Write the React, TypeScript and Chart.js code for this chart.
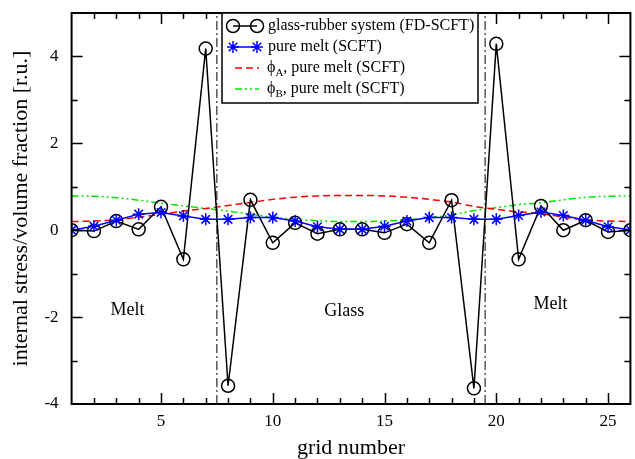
import { useEffect, useRef } from 'react';
import { Chart, registerables } from 'chart.js';

Chart.register(...registerables);

// Grid positions along the film
const gridNumbers = [1, 2, 3, 4, 5, 6, 7, 8, 9, 10, 11, 12, 13, 14, 15, 16, 17, 18, 19, 20, 21, 22, 23, 24, 25, 26];

// Internal stress, glass-rubber system (FD-SCFT)
const glassRubber = [0, -0.02, 0.21, 0.02, 0.54, -0.67, 4.18, -3.58, 0.7, -0.29, 0.17, -0.08, 0.02, 0.02, -0.06, 0.14, -0.29, 0.69, -3.64, 4.29, -0.67, 0.56, 0.0, 0.23, -0.04, 0];

// Internal stress, pure melt (SCFT)
const pureMelt = [0, 0.09, 0.23, 0.37, 0.41, 0.33, 0.25, 0.25, 0.29, 0.29, 0.21, 0.08, 0.02, 0.02, 0.09, 0.21, 0.29, 0.29, 0.25, 0.25, 0.34, 0.42, 0.34, 0.23, 0.08, 0.01];

// Volume fractions of the pure melt (SCFT)
const phiA = [0.2, 0.21, 0.24, 0.3, 0.37, 0.44, 0.5, 0.57, 0.64, 0.71, 0.76, 0.79, 0.8, 0.8, 0.79, 0.76, 0.71, 0.65, 0.55, 0.48, 0.42, 0.38, 0.3, 0.24, 0.21, 0.2];
const phiB = [0.79, 0.78, 0.75, 0.69, 0.62, 0.56, 0.5, 0.44, 0.37, 0.3, 0.25, 0.22, 0.2, 0.2, 0.21, 0.24, 0.29, 0.35, 0.45, 0.52, 0.59, 0.63, 0.7, 0.76, 0.78, 0.79];

// Glass/melt interfaces
const interfaces = [7.5, 19.5];

// Axis ranges and labelled ticks
const xRange = [1, 26];
const yRange = [-4, 5];
const xLabelTicks = [5, 10, 15, 20, 25];
const yLabelTicks = [-4, -2, 0, 2, 4];

// Region labels: [text, x, y]
const regionLabels: [string, number, number][] = [
  ['Melt', 3.5, -1.85],
  ['Glass', 13.2, -1.87],
  ['Melt', 22.43, -1.7],
];

const legendItems = [
  'glass-rubber system (FD-SCFT)',
  'pure melt (SCFT)',
  ', pure melt (SCFT)',
  ', pure melt (SCFT)',
];

const SERIF = '"Liberation Serif", "Times New Roman", serif';
const BLUE = '#0000ff';
const RED = '#ff0000';
const GREEN = 'rgb(0,230,0)';
const DASH_RED = [7, 4];
const DASH_GREEN = [7, 3, 2, 3, 2, 3];
const DASH_IFACE = [9, 3, 2, 3];

const pts = (ys: number[]) => gridNumbers.map((x, i) => ({ x, y: ys[i] }));

const framePlugin = {
  id: 'frameAndExtras',
  afterDatasetsDraw(chart: any) {
    const { ctx, chartArea: a, scales } = chart;
    const xs = scales.x;
    const ys = scales.y;
    ctx.save();

    // region labels
    ctx.fillStyle = '#000';
    ctx.font = `18px ${SERIF}`;
    ctx.textAlign = 'center';
    ctx.textBaseline = 'middle';
    for (const [t, x, y] of regionLabels) {
      ctx.fillText(t, xs.getPixelForValue(x), ys.getPixelForValue(y));
    }

    // frame
    ctx.strokeStyle = '#000';
    ctx.lineWidth = 2;
    ctx.strokeRect(a.left, a.top, a.right - a.left, a.bottom - a.top);

    // inward ticks on all four sides
    ctx.lineWidth = 1.5;
    ctx.beginPath();
    for (let v = xRange[0] + 1; v < xRange[1]; v++) {
      const len = v % 5 === 0 ? 11 : 6;
      const px = Math.round(xs.getPixelForValue(v)) + 0.5;
      ctx.moveTo(px, a.bottom);
      ctx.lineTo(px, a.bottom - len);
      ctx.moveTo(px, a.top);
      ctx.lineTo(px, a.top + len);
    }
    for (let v = yRange[0] + 1; v < yRange[1]; v++) {
      const len = v % 2 === 0 ? 11 : 6;
      const py = Math.round(ys.getPixelForValue(v)) + 0.5;
      ctx.moveTo(a.left, py);
      ctx.lineTo(a.left + len, py);
      ctx.moveTo(a.right, py);
      ctx.lineTo(a.right - len, py);
    }
    ctx.stroke();

    // legend box
    const bx = 222, by = a.top, bw = 256, bh = 90;
    ctx.fillStyle = '#fff';
    ctx.fillRect(bx, by, bw, bh);
    ctx.lineWidth = 1.5;
    ctx.strokeStyle = '#000';
    ctx.strokeRect(bx, by, bw, bh);

    const rows = [26, 47, 68, 89];
    const sx0 = 233, sx1 = 257, tx = 268;

    // row 1: circle - line - circle
    ctx.lineWidth = 1.5;
    ctx.strokeStyle = '#000';
    ctx.beginPath();
    ctx.moveTo(sx0, rows[0]);
    ctx.lineTo(sx1, rows[0]);
    ctx.stroke();
    for (const cx of [sx0, sx1]) {
      ctx.beginPath();
      ctx.arc(cx, rows[0], 6.5, 0, Math.PI * 2);
      ctx.stroke();
    }

    // row 2: star - line - star
    ctx.strokeStyle = BLUE;
    ctx.beginPath();
    ctx.moveTo(sx0, rows[1]);
    ctx.lineTo(sx1, rows[1]);
    ctx.stroke();
    for (const cx of [sx0, sx1]) {
      ctx.beginPath();
      const r = 6;
      for (let k = 0; k < 4; k++) {
        const ang = (k * Math.PI) / 4;
        ctx.moveTo(cx - Math.cos(ang) * r, rows[1] - Math.sin(ang) * r);
        ctx.lineTo(cx + Math.cos(ang) * r, rows[1] + Math.sin(ang) * r);
      }
      ctx.stroke();
    }

    // rows 3, 4: dashed samples
    ctx.strokeStyle = RED;
    ctx.setLineDash(DASH_RED);
    ctx.beginPath();
    ctx.moveTo(235, rows[2]);
    ctx.lineTo(259, rows[2]);
    ctx.stroke();
    ctx.strokeStyle = GREEN;
    ctx.setLineDash(DASH_GREEN);
    ctx.beginPath();
    ctx.moveTo(235, rows[3]);
    ctx.lineTo(259, rows[3]);
    ctx.stroke();
    ctx.setLineDash([]);

    // legend text
    ctx.fillStyle = '#000';
    ctx.textAlign = 'left';
    ctx.textBaseline = 'middle';
    ctx.font = `16px ${SERIF}`;
    ctx.fillText(legendItems[0], tx, rows[0]);
    ctx.fillText(legendItems[1], tx, rows[1]);
    const subs = ['A', 'B'];
    for (let i = 0; i < 2; i++) {
      const y = rows[2 + i];
      let x = 267;
      ctx.font = `16px ${SERIF}`;
      ctx.fillText('\u03d5', x, y);
      x += ctx.measureText('\u03d5').width;
      ctx.font = `11px ${SERIF}`;
      ctx.fillText(subs[i], x, y + 5);
      x += ctx.measureText(subs[i]).width;
      ctx.font = `16px ${SERIF}`;
      ctx.fillText(legendItems[2 + i], x, y);
    }

    ctx.restore();
  },
};

export default function App() {
  const ref = useRef<HTMLCanvasElement | null>(null);

  useEffect(() => {
    document.body.style.margin = '0';
    const canvas = ref.current;
    if (!canvas) return;

    const chart = new Chart(canvas, {
      type: 'line',
      data: {
        datasets: [
          {
            label: 'glass-rubber system (FD-SCFT)',
            data: pts(glassRubber),
            borderColor: '#000',
            borderWidth: 1.5,
            pointStyle: 'circle',
            pointRadius: 6.5,
            pointBorderWidth: 1.5,
            pointBorderColor: '#000',
            pointBackgroundColor: 'rgba(0,0,0,0)',
            backgroundColor: 'rgba(0,0,0,0)',
            order: 1,
          },
          {
            label: 'pure melt (SCFT)',
            data: pts(pureMelt),
            borderColor: BLUE,
            borderWidth: 1.5,
            pointStyle: 'star',
            pointRadius: 6,
            pointBorderWidth: 1.5,
            pointBorderColor: BLUE,
            pointBackgroundColor: BLUE,
            order: 0,
          },
          {
            label: 'phi_A, pure melt (SCFT)',
            data: pts(phiA),
            borderColor: RED,
            borderWidth: 1.5,
            borderDash: DASH_RED,
            pointRadius: 0,
            cubicInterpolationMode: 'monotone',
            order: 2,
          },
          {
            label: 'phi_B, pure melt (SCFT)',
            data: pts(phiB),
            borderColor: GREEN,
            borderWidth: 1.5,
            borderDash: DASH_GREEN,
            pointRadius: 0,
            cubicInterpolationMode: 'monotone',
            order: 3,
          },
          ...interfaces.map((xv) => ({
            label: 'interface',
            data: [
              { x: xv, y: yRange[0] },
              { x: xv, y: yRange[1] },
            ],
            borderColor: '#000',
            borderWidth: 1,
            borderDash: DASH_IFACE,
            pointRadius: 0,
            order: 4,
          })),
        ],
      },
      options: {
        responsive: false,
        animation: false,
        events: [],
        layout: { autoPadding: false, padding: { top: 13, right: 4.6, left: 0, bottom: 0 } },
        plugins: {
          legend: { display: false },
          tooltip: { enabled: false },
        },
        scales: {
          x: {
            type: 'linear',
            min: xRange[0],
            max: xRange[1],
            grid: { display: false, drawTicks: false },
            border: { display: false },
            afterFit: (s: any) => {
              s.height = 55;
              s.paddingLeft = 0;
              s.paddingRight = 0;
            },
            afterBuildTicks: (s: any) => {
              s.ticks = xLabelTicks.map((v) => ({ value: v }));
            },
            ticks: {
              padding: 7,
              color: '#000',
              font: { family: SERIF, size: 17 },
              maxRotation: 0,
              callback: (v: any) => String(v),
            },
            title: {
              display: true,
              text: 'grid number',
              color: '#000',
              font: { family: SERIF, size: 22, lineHeight: 1 },
              padding: 0,
            },
          },
          y: {
            type: 'linear',
            min: yRange[0],
            max: yRange[1],
            grid: { display: false, drawTicks: false },
            border: { display: false },
            afterFit: (s: any) => {
              s.width = 71.6;
              s.paddingTop = 0;
              s.paddingBottom = 0;
            },
            afterBuildTicks: (s: any) => {
              s.ticks = yLabelTicks.map((v) => ({ value: v }));
            },
            ticks: {
              padding: 13,
              color: '#000',
              font: { family: SERIF, size: 17 },
              callback: (v: any) => String(v),
            },
            title: {
              display: true,
              text: 'internal stress/volume fraction [r.u.]',
              color: '#000',
              font: { family: SERIF, size: 22, lineHeight: 1 },
              padding: { top: 10, bottom: 0 },
            },
          },
        },
      },
      plugins: [framePlugin],
    });

    return () => chart.destroy();
  }, []);

  return <canvas ref={ref} width={635} height={459} style={{ display: 'block' }} />;
}
